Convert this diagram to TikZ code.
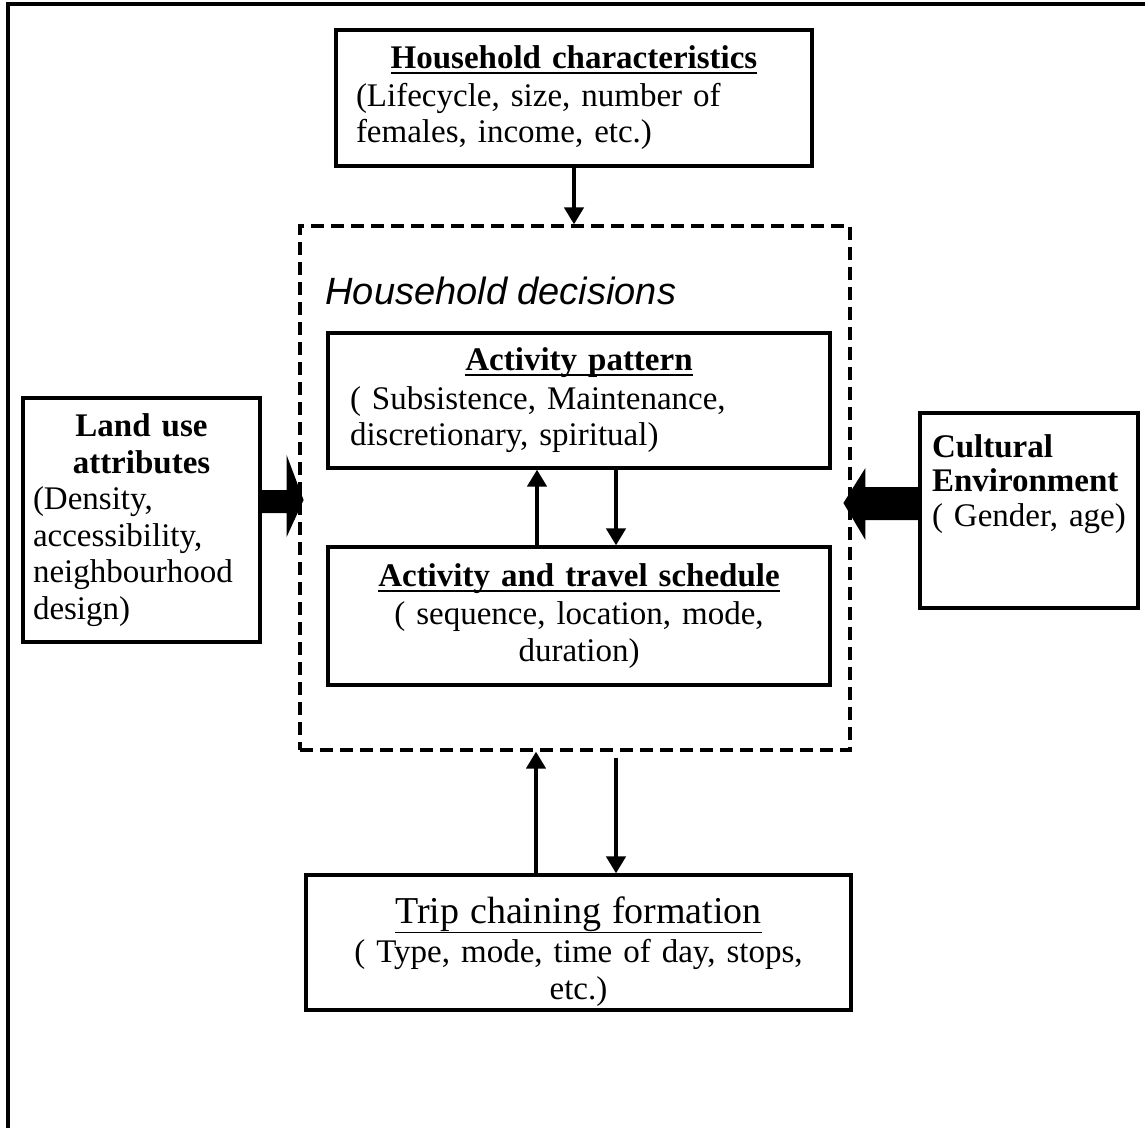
\documentclass[tikz,border=0pt]{standalone}
\usepackage{fontspec}
\setmainfont{Liberation Serif}
\setsansfont{Liberation Sans}
\usepackage{tikz}
\usetikzlibrary{arrows.meta}

\newcommand{\headul}[1]{\leavevmode\setbox0=\hbox{#1}\rlap{\rule[-5.5pt]{\wd0}{2.2pt}}\box0}

\begin{document}
\begin{tikzpicture}[x=1pt,y=-1pt,
  box/.style={draw,line width=3.2pt,inner sep=0pt,font=\fontsize{33}{36.5}\selectfont},
  arr/.style={line width=4.5pt,-{Triangle[width=19pt,length=17pt]}}]
  \useasboundingbox (0,0) rectangle (1145,1127);
  \draw[line width=3.8pt] (8,1140) -- (8,4) -- (1160,4);

  \node[box,minimum width=476pt,minimum height=136pt,text width=436pt,align=left] (hc) at (574,98)
    {\hfill\headul{\textbf{Household characteristics}}\hfill\null\\[1pt]
     (Lifecycle, size, number of\\
     females, income, etc.)};

  \node[draw,line width=3.2pt,dash pattern=on 13pt off 7pt,minimum width=550pt,minimum height=524pt] (hd) at (575,488) {};
  \node[anchor=base west,font=\sffamily\itshape\fontsize{38}{40}\selectfont] (hdlabel) at (322,304) {Household decisions};

  \node[box,minimum width=502pt,minimum height=135pt,text width=458pt,align=left] (ap) at (579,400.5)
    {\hfill\headul{\textbf{Activity pattern}}\hfill\null\\[2pt]
     ( Subsistence, Maintenance,\\
     discretionary, spiritual)};

  \node[box,minimum width=502pt,minimum height=138pt,text width=460pt,align=center] (ats) at (579,616)
    {\headul{\textbf{Activity and travel schedule}}\\[2pt]
     ( sequence, location, mode,\\
     duration)};

  \node[box,minimum width=237pt,minimum height=244pt,text width=217pt,align=left] (lu) at (141.5,520)
    {\hfill\textbf{Land use}\hfill\null\\
     \hfill\textbf{attributes}\hfill\null\\
     (Density,\\
     accessibility,\\
     neighbourhood\\
     design)};

  \node[box,minimum width=218pt,minimum height=195pt,text width=210pt,align=left,
        font=\fontsize{33}{34.5}\selectfont] (ce) at (1029,510.5)
    {\leftskip=8pt\textbf{Cultural}\\
     \textbf{Environment}\\
     ( Gender, age)\\[26pt]
     \mbox{}};

  \node[box,minimum width=545pt,minimum height=135pt,text width=505pt,align=center] (tcf) at (578.5,942.5)
    {\rule{0pt}{44pt}{\fontsize{38}{40}\selectfont\underline{Trip chaining formation}}\\[3pt]
     ( Type, mode, time of day, stops,\\
     etc.)};

  \draw[arr] (hc.south) -- (hc.south |- hd.north);

  \draw[arr] ([xshift=-42pt]ats.north) -- ([xshift=-42pt]ap.south);
  \draw[arr] ([xshift=37pt]ap.south) -- ([xshift=37pt]ats.north);

  \draw[arr] ([xshift=-42.5pt]tcf.north) -- ([xshift=-39pt]hd.south);
  \draw[arr] ([xshift=41pt,yshift=-6pt]hd.south) -- ([xshift=37.5pt]tcf.north);

  % block arrows
  \fill ([yshift=19pt]lu.east) ++(0,-11) -- ++(25,0) -- ++(0,-35) -- ++(17,45)
    -- ++(-17,37) -- ++(0,-24) -- ++(-25,0) -- cycle;
  \fill ([yshift=7.5pt]ce.west) ++(0,-16) -- ++(-53,0) -- ++(0,-19) -- ++(-22,35)
    -- ++(22,37) -- ++(0,-20) -- ++(53,0) -- cycle;
\end{tikzpicture}
\end{document}
